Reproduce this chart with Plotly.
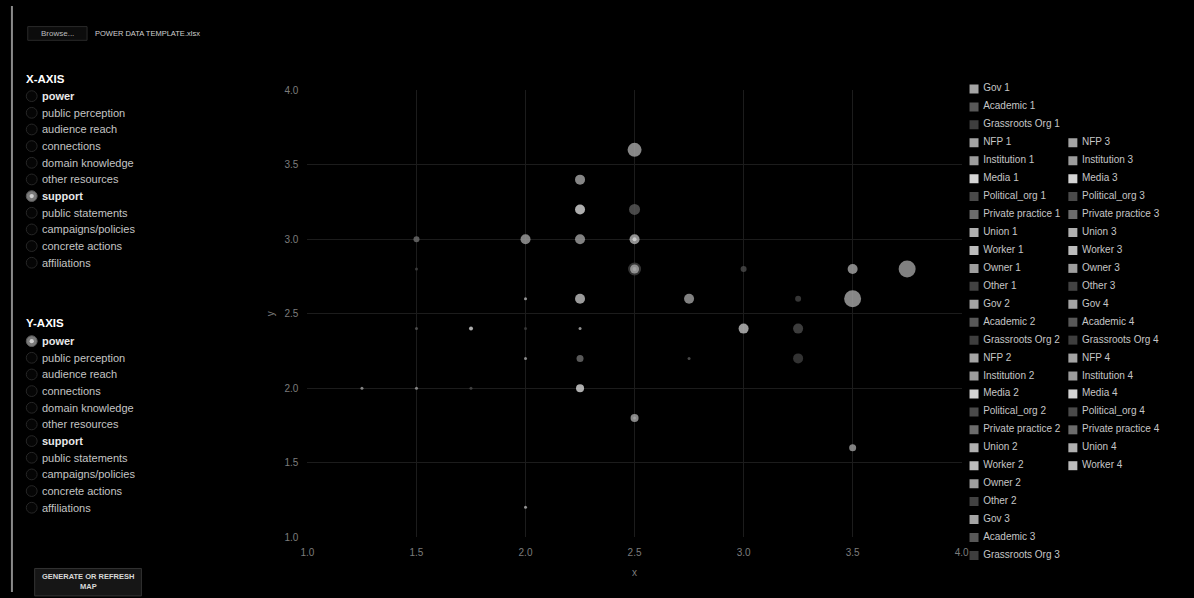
import plotly.graph_objects as go

# ---------------- data ----------------
types = ["Gov", "Academic", "Grassroots Org", "NFP", "Institution", "Media",
         "Political_org", "Private practice", "Union", "Worker", "Owner", "Other"]
type_colors = ["#a4a4a4", "#585858", "#3e3e3e", "#a4a4a4", "#9c9c9c", "#d4d4d4",
               "#4a4a4a", "#6c6c6c", "#b0b0b0", "#bcbcbc", "#9e9e9e", "#424242"]

series_names = (
    [f"{t} 1" for t in types] + [f"{t} 2" for t in types] + [f"{t} 3" for t in types]
    + ["Gov 4", "Academic 4", "Grassroots Org 4", "NFP 4", "Institution 4", "Media 4",
       "Political_org 4", "Private practice 4", "Union 4", "Worker 4"]
)

# points: owner series, x (support), y (power), size
pt_series = ["Gov 1", "NFP 1", "Media 1", "Academic 1", "Private practice 1", "Institution 1",
             "Owner 1", "Union 1", "Media 2", "Grassroots Org 1", "Gov 2", "Worker 1",
             "Other 1", "Political_org 1", "NFP 2", "Institution 2", "Union 2", "Worker 2",
             "Owner 2", "Other 2", "Gov 3", "Academic 2", "Media 3", "Grassroots Org 2",
             "Union 3", "Worker 3", "Political_org 2", "NFP 3", "Private practice 2",
             "Academic 3", "Grassroots Org 3", "Institution 3", "Owner 3", "Political_org 3",
             "Media 4", "Gov 4", "NFP 4", "Institution 4", "Union 4"]
pt_x = [2.5, 2.25, 2.25, 2.5, 1.5, 2.0,
        2.25, 2.5, 2.5, 2.5, 2.5, 2.5,
        1.5, 3.0, 3.5, 3.75, 2.0, 2.25,
        2.75, 3.25, 3.5, 1.5, 1.75, 2.0,
        2.25, 3.0, 3.25, 2.0, 2.25,
        2.75, 3.25, 1.25, 1.5, 1.75,
        2.25, 2.5, 2.5, 3.5, 2.0]
pt_y = [3.6, 3.4, 3.2, 3.2, 3.0, 3.0,
        3.0, 3.0, 3.0, 2.8, 2.8, 2.8,
        2.8, 2.8, 2.8, 2.8, 2.6, 2.6,
        2.6, 2.6, 2.6, 2.4, 2.4, 2.4,
        2.4, 2.4, 2.4, 2.2, 2.2,
        2.2, 2.2, 2.0, 2.0, 2.0,
        2.0, 1.8, 1.8, 1.6, 1.2]
pt_size = [14, 10, 10, 11, 6, 10,
           10, 10, 4, 13, 9, 4,
           3, 6, 10, 17, 3, 10,
           10, 6, 17, 3, 4, 3,
           3, 10, 10, 3, 7,
           3, 10, 3, 3, 3,
           8, 8, 3, 7, 3]

legend_col1 = series_names[:27]
legend_col2 = series_names[27:]
legend_col2_first_row = 3

# ---------------- layout helpers ----------------
W, H = 1194, 598
def px(x):
    return x / W
def py(y):
    return 1 - y / H

def color_of(name):
    return type_colors[types.index(name.rsplit(" ", 1)[0])]

fig = go.Figure()

# main scatter traces
for name in series_names:
    xs = [x for s, x in zip(pt_series, pt_x) if s == name]
    ys = [y for s, y in zip(pt_series, pt_y) if s == name]
    ss = [z for s, z in zip(pt_series, pt_size) if s == name]
    fig.add_trace(go.Scatter(
        x=xs, y=ys, mode="markers", name=name, showlegend=False,
        marker=dict(size=ss, color=color_of(name), opacity=0.82, line=dict(width=0)),
        xaxis="x", yaxis="y",
    ))

# legend drawn on its own axes
leg_names = legend_col1 + legend_col2
leg_col = [0] * len(legend_col1) + [1] * len(legend_col2)
leg_row = list(range(len(legend_col1))) + [legend_col2_first_row + i for i in range(len(legend_col2))]
fig.add_trace(go.Scatter(
    x=leg_col, y=leg_row, mode="markers", showlegend=False, hoverinfo="skip",
    marker=dict(symbol="square", size=9, color=[color_of(n) for n in leg_names], line=dict(width=0)),
    xaxis="x2", yaxis="y2",
))
fig.add_trace(go.Scatter(
    x=leg_col, y=leg_row, mode="markers+text", text=leg_names, textposition="middle right",
    showlegend=False, hoverinfo="skip",
    marker=dict(size=13, color="rgba(0,0,0,0)"),
    textfont=dict(family="Liberation Sans, Arial", size=10, color="#c6c6c6"),
    xaxis="x2", yaxis="y2",
))

axis_font = dict(family="Liberation Sans, Arial", size=10, color="#7c7c7c")
fig.update_layout(
    width=W, height=H,
    margin=dict(l=0, r=0, t=0, b=0),
    paper_bgcolor="#000000", plot_bgcolor="#000000",
    showlegend=False,
    xaxis=dict(domain=[px(304), px(966)], range=[1, 4], dtick=0.5, tickformat=".1f",
               gridcolor="#1c1c1c", gridwidth=1, zeroline=False, showline=False,
               ticklabelstandoff=8,
               tickfont=axis_font, title=dict(text="x", font=axis_font, standoff=11),
               anchor="y"),
    yaxis=dict(domain=[py(542), py(86)], range=[1, 4], dtick=0.5, tickformat=".1f",
               gridcolor="#1c1c1c", gridwidth=1, zeroline=False, showline=False,
               ticklabelstandoff=8,
               tickfont=axis_font, title=dict(text="y", font=axis_font, standoff=8),
               anchor="x"),
    xaxis2=dict(domain=[px(970), 1.0], range=[-0.085, 2.155], visible=False,
                fixedrange=True, anchor="y2"),
    yaxis2=dict(domain=[0, 1], range=[28.04, -4.626], visible=False,
                fixedrange=True, anchor="x2"),
)

# ---------------- left control panel ----------------
annotations = []
shapes = []
ui_font = "Liberation Sans, Arial"

def text(x, y, s, size=11, color="#c8c8c8", anchor="left", bold=False):
    annotations.append(dict(
        x=px(x), y=py(y), xref="paper", yref="paper", text=(f"<b>{s}</b>" if bold else s),
        showarrow=False, xanchor=anchor, yanchor="middle",
        font=dict(family=ui_font, size=size, color=color)))

def box(x0, y0, x1, y1, fill="#0c0c0c", line="#2a2a2a"):
    shapes.append(dict(type="rect", xref="paper", yref="paper",
                       x0=px(x0), y0=py(y0), x1=px(x1), y1=py(y1),
                       fillcolor=fill, line=dict(color=line, width=1)))

def radio(cx, cy, selected):
    r = 5.5
    shapes.append(dict(type="circle", xref="paper", yref="paper",
                       x0=px(cx - r), x1=px(cx + r), y0=py(cy + r), y1=py(cy - r),
                       fillcolor="#7a7a7a" if selected else "#050505",
                       line=dict(color="#5a5a5a" if selected else "#262626", width=1)))
    if selected:
        r2 = 2.2
        shapes.append(dict(type="circle", xref="paper", yref="paper",
                           x0=px(cx - r2), x1=px(cx + r2), y0=py(cy + r2), y1=py(cy - r2),
                           fillcolor="#d0d0d0", line=dict(width=0)))

# left border
shapes.append(dict(type="line", xref="paper", yref="paper", x0=px(5), x1=px(5), y0=0, y1=1,
                   line=dict(color="#8a8a8a", width=2)))

# file input
box(21, 21, 81, 35)
text(51, 28, "Browse...", size=8, color="#bdbdbd", anchor="center")
text(87, 28, "POWER DATA TEMPLATE.xlsx", size=7.5, color="#d0d0d0")

options = ["power", "public perception", "audience reach", "connections", "domain knowledge",
           "other resources", "support", "public statements", "campaigns/policies",
           "concrete actions", "affiliations"]
bold_options = ["power", "support"]

def radio_group(title, y_title, y_first, selected):
    text(17, y_title, title, size=11.5, color="#ffffff", bold=True)
    for i, opt in enumerate(options):
        yy = y_first + i * 17
        radio(25, yy, opt == selected)
        text(33, yy, opt, size=11,
             color="#e8e8e8" if opt in bold_options else "#c4c4c4",
             bold=opt in bold_options)

radio_group("X-AXIS", 75, 92, "support")
radio_group("Y-AXIS", 324, 342, "power")

# generate button
box(28, 574, 136, 602, fill="#161616", line="#333333")
text(82, 582, "GENERATE OR REFRESH", size=7.5, color="#d8d8d8", anchor="center", bold=True)
text(82, 592, "MAP", size=7.5, color="#d8d8d8", anchor="center", bold=True)

fig.update_layout(annotations=annotations, shapes=shapes)

page_fix = """
document.documentElement.style.margin='0';
document.documentElement.style.padding='0';
document.documentElement.style.overflow='hidden';
document.documentElement.style.background='#000';
document.body.style.margin='0';
document.body.style.padding='0';
document.body.style.overflow='hidden';
document.body.style.background='#000';
var gd = document.querySelector('.plotly-graph-div');
if (gd) { gd.style.position='absolute'; gd.style.left='0px'; gd.style.top='0px'; }
"""
fig.write_html("out.html", config={"displayModeBar": False}, post_script=page_fix)
